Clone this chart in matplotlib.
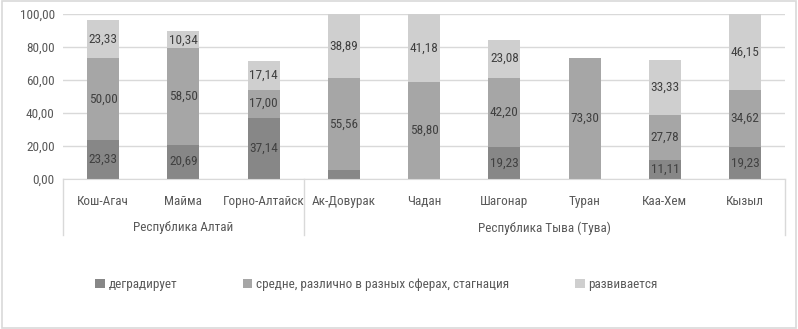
import matplotlib.pyplot as plt
from matplotlib.patches import Patch, Rectangle
import matplotlib.transforms as mtransforms

plt.rcParams['font.family'] = ['Roboto Condensed', 'Roboto', 'DejaVu Sans']

## Data
towns = ['Кош-Агач', 'Майма', 'Горно-Алтайск', 'Ак-Довурак', 'Чадан',
         'Шагонар', 'Туран', 'Каа-Хем', 'Кызыл']
regions = ['Республика Алтай', 'Республика Тыва (Тува)']
region_sizes = [3, 6]
degrade = [23.33, 20.69, 37.14, 5.55, 0, 19.23, 0, 11.11, 19.23]
middle = [50.00, 58.50, 17.00, 55.56, 58.80, 42.20, 73.30, 27.78, 34.62]
develop = [23.33, 10.34, 17.14, 38.89, 41.18, 23.08, 0, 33.33, 46.15]
series_names = ['деградирует', 'средне, различно в разных сферах, стагнация',
                'развивается']
colors = ['#878787', '#a6a6a6', '#cfcfcf']

fig = plt.figure(figsize=(7.98, 3.29), dpi=100)
ax = fig.add_axes([0.079, 0.457, 0.905, 0.5])

x = list(range(len(towns)))
bottom = [0] * len(towns)
for vals, col in zip([degrade, middle, develop], colors):
    bars = ax.bar(x, vals, width=0.4, bottom=bottom, color=col, zorder=2)
    for xi, b, v in zip(x, bottom, vals):
        # small segment in Ак-Довурак has no label in the original
        if v >= 10:
            ax.text(xi, b + v / 2, f'{v:.2f}'.replace('.', ','), ha='center',
                    va='center', fontsize=9.5, color='#404040', zorder=3)
    bottom = [b + v for b, v in zip(bottom, vals)]

ax.set_xlim(-0.5, len(towns) - 0.5)
ax.set_ylim(0, 100)
ax.set_yticks([0, 20, 40, 60, 80, 100])
ax.set_yticklabels([f'{t:.2f}'.replace('.', ',') for t in [0, 20, 40, 60, 80, 100]])
ax.grid(axis='y', color='#d9d9d9', linewidth=1, zorder=0)
for s in ['top', 'right', 'left']:
    ax.spines[s].set_visible(False)
ax.spines['bottom'].set_color('#d9d9d9')
ax.tick_params(axis='y', length=0, labelsize=9.5, labelcolor='#595959', pad=6)
ax.tick_params(axis='x', length=0, labelsize=9.5, labelcolor='#595959', pad=12)
ax.set_xticks(x)
ax.set_xticklabels(towns)

## Multi-level category axis
trans = mtransforms.blended_transform_factory(ax.transData, ax.transAxes)
edges = [-0.5]
for n in region_sizes:
    edges.append(edges[-1] + n)
for e in edges:
    ax.plot([e, e], [0, -0.345], transform=trans, color='#d9d9d9', lw=1,
            clip_on=False)
for i, name in enumerate(regions):
    ax.text((edges[i] + edges[i + 1]) / 2, -0.3, name, transform=trans,
            ha='center', va='center', fontsize=9.5, color='#595959')

## Legend
handles = [Patch(facecolor=c, edgecolor='none') for c in colors]
fig.legend(handles, series_names, loc='center', ncol=3, frameon=False,
           bbox_to_anchor=(0.472, 0.134), fontsize=9.5, labelcolor='#595959',
           handlelength=0.7, handleheight=0.7, handletextpad=0.3,
           columnspacing=5.0)

## Outer border
fig.patches.append(Rectangle((0.002, 0.003), 0.996, 0.994, transform=fig.transFigure,
                             fill=False, edgecolor='#d9d9d9', lw=1.2))

plt.savefig('out.png', dpi=100)
